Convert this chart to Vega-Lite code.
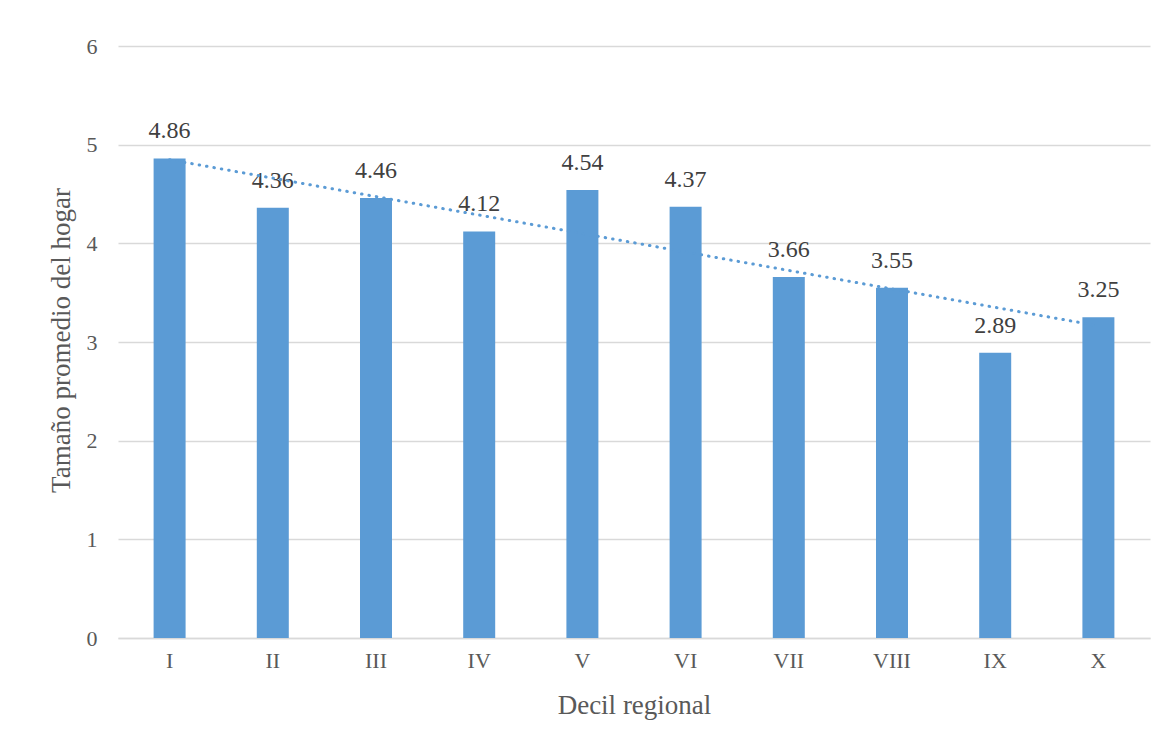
{
  "$schema": "https://vega.github.io/schema/vega-lite/v6.json",
  "autosize": "none",
  "width": 1032,
  "height": 592,
  "padding": {"left": 118, "top": 46, "right": 22, "bottom": 115},
  "background": "white",
  "config": {
    "view": {"stroke": null},
    "font": "Liberation Serif",
    "axis": {"labelFont": "Liberation Serif", "titleFont": "Liberation Serif", "labelColor": "#595959", "titleColor": "#595959", "titleFontWeight": "normal"}
  },
  "data": {
    "values": [
      {"decil": "I", "n": 1, "valor": 4.86},
      {"decil": "II", "n": 2, "valor": 4.36},
      {"decil": "III", "n": 3, "valor": 4.46},
      {"decil": "IV", "n": 4, "valor": 4.12},
      {"decil": "V", "n": 5, "valor": 4.54},
      {"decil": "VI", "n": 6, "valor": 4.37},
      {"decil": "VII", "n": 7, "valor": 3.66},
      {"decil": "VIII", "n": 8, "valor": 3.55},
      {"decil": "IX", "n": 9, "valor": 2.89},
      {"decil": "X", "n": 10, "valor": 3.25}
    ]
  },
  "layer": [
    {
      "encoding": {
        "x": {
          "field": "decil", "type": "ordinal", "sort": null,
          "scale": {"paddingInner": 0.69, "paddingOuter": 0.345},
          "axis": {"title": "Decil regional", "labelAngle": 0, "labelFontSize": 22, "titleFontSize": 27, "ticks": false, "domainColor": "#D9D9D9", "domainWidth": 1.5, "labelPadding": 12, "titlePadding": 21}
        },
        "y": {
          "field": "valor", "type": "quantitative",
          "scale": {"domain": [0, 6], "nice": false},
          "axis": {"title": "Tamaño promedio del hogar", "values": [0, 1, 2, 3, 4, 5, 6], "format": "d", "labelFontSize": 22, "titleFontSize": 27, "ticks": false, "domain": false, "gridColor": "#D9D9D9", "gridWidth": 1.5, "labelPadding": 21, "titlePadding": 11, "titleY": 294, "labelOverlap": false}
        }
      },
      "layer": [
        {"mark": {"type": "bar", "color": "#5B9BD5"}},
        {
          "mark": {"type": "text", "baseline": "alphabetic", "dy": -20, "fontSize": 24, "color": "#404040", "font": "Liberation Serif"},
          "encoding": {"text": {"field": "valor", "type": "quantitative", "format": ".2f"}}
        }
      ]
    },
    {
      "transform": [{"regression": "valor", "on": "n"}],
      "mark": {"type": "line", "color": "#5B9BD5", "strokeWidth": 3, "strokeDash": [0.5, 7], "strokeCap": "round"},
      "encoding": {
        "x": {"field": "n", "type": "quantitative", "scale": {"domain": [0.5, 10.5]}, "axis": null},
        "y": {"field": "valor", "type": "quantitative",
          "axis": {"title": "Tamaño promedio del hogar", "values": [0, 1, 2, 3, 4, 5, 6], "format": "d", "labelFontSize": 22, "titleFontSize": 27, "ticks": false, "domain": false, "gridColor": "#D9D9D9", "gridWidth": 1.5, "labelPadding": 21, "titlePadding": 11, "titleY": 294, "labelOverlap": false}}
      }
    }
  ],
  "resolve": {"scale": {"x": "independent"}}
}
